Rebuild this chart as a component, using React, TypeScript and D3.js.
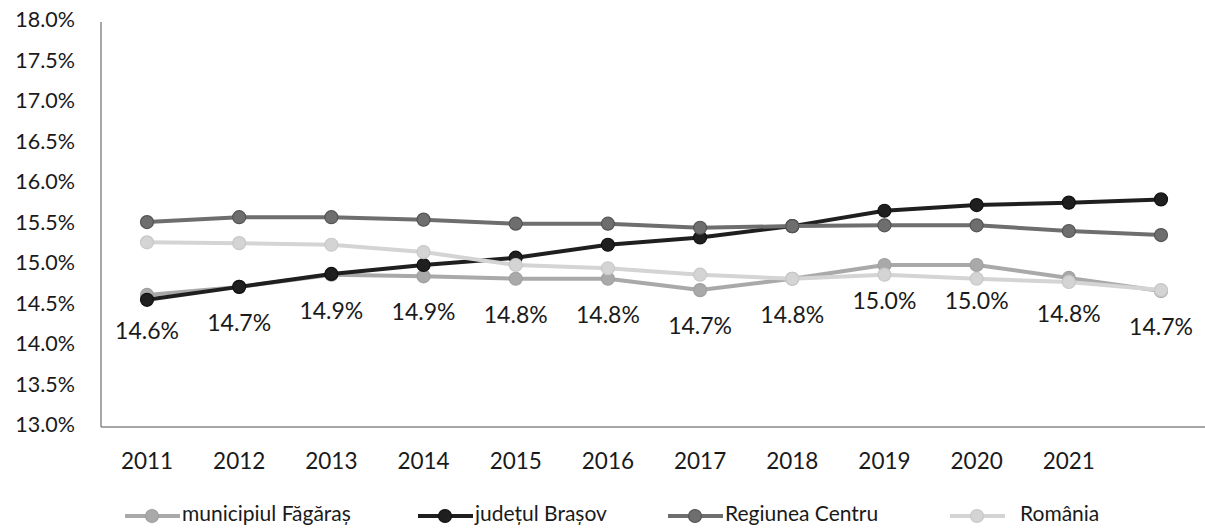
import React from "react";
import * as d3 from "d3";

const categories = ["2011", "2012", "2013", "2014", "2015", "2016", "2017", "2018", "2019", "2020", "2021", "2022"];
const xTickLabels = ["2011", "2012", "2013", "2014", "2015", "2016", "2017", "2018", "2019", "2020", "2021", ""];
const fagaras = [14.63, 14.73, 14.88, 14.86, 14.83, 14.83, 14.69, 14.83, 15.0, 15.0, 14.84, 14.68];
const brasov = [14.57, 14.73, 14.89, 15.0, 15.09, 15.25, 15.34, 15.48, 15.67, 15.74, 15.77, 15.81];
const centru = [15.53, 15.59, 15.59, 15.56, 15.51, 15.51, 15.46, 15.48, 15.49, 15.49, 15.42, 15.37];
const romania = [15.28, 15.27, 15.25, 15.16, 15.0, 14.96, 14.88, 14.83, 14.88, 14.83, 14.79, 14.69];
const yTicks = [13.0, 13.5, 14.0, 14.5, 15.0, 15.5, 16.0, 16.5, 17.0, 17.5, 18.0];
const seriesNames = ["municipiul Făgăraș", "județul Brașov", "Regiunea Centru", "România"];

const W = 1205;
const H = 530;
const FONT = "Lato, 'Open Sans', sans-serif";

const series = [
  { name: seriesNames[0], values: fagaras, color: "#a9a9a9", stroke: "#a0a0a0" },
  { name: seriesNames[1], values: brasov, color: "#1f1f1f", stroke: "#111" },
  { name: seriesNames[2], values: centru, color: "#6e6e6e", stroke: "#555" },
  { name: seriesNames[3], values: romania, color: "#d4d4d4", stroke: "#c8c8c8" },
];

const legendX = [125, 418, 668, 950];

export default function App() {
  const x = d3.scalePoint<string>().domain(categories).range([147, 1161]);
  const y = d3.scaleLinear().domain([13, 18]).range([427, 22]);
  const line = d3
    .line<number>()
    .x((_, i) => x(categories[i]) as number)
    .y((d) => y(d));

  return (
    <svg
      width={W}
      height={H}
      style={{ position: "absolute", left: 0, top: 0, background: "#fff" }}
      fontFamily={FONT}
    >
      <rect width={W} height={H} fill="#fff" />
      {/* axes */}
      <line x1={101} x2={101} y1={y(18)} y2={y(13)} stroke="#8a8a8a" strokeWidth={1.5} />
      <line x1={101} x2={1205} y1={y(13)} y2={y(13)} stroke="#8a8a8a" strokeWidth={1.5} />
      {yTicks.map((t) => (
        <text key={t} x={75} y={y(t)} textAnchor="end" dominantBaseline="middle" fontSize={21.5} fill="#1a1a1a">
          {t.toFixed(1) + "%"}
        </text>
      ))}
      {xTickLabels.map((c, i) => (
        <text key={i} x={x(categories[i]) as number} y={463} textAnchor="middle" dominantBaseline="middle" fontSize={22.5} fill="#1a1a1a">
          {c}
        </text>
      ))}
      {/* series */}
      {series.map((s) => (
        <g key={s.name}>
          <path d={line(s.values) || ""} fill="none" stroke={s.color} strokeWidth={4} strokeLinejoin="round" />
          {s.values.map((v, i) => (
            <circle key={i} cx={x(categories[i]) as number} cy={y(v)} r={6.5} fill={s.color} stroke={s.stroke} strokeWidth={1.2} />
          ))}
        </g>
      ))}
      {/* data labels for Făgăraș */}
      {fagaras.map((v, i) => (
        <text key={i} x={x(categories[i]) as number} y={y(v) + 38} textAnchor="middle" dominantBaseline="middle" fontSize={23} fill="#1a1a1a">
          {v.toFixed(1) + "%"}
        </text>
      ))}
      {/* legend */}
      {series.map((s, i) => (
        <g key={s.name} transform={`translate(${legendX[i]},516)`}>
          <line x1={0} x2={55} y1={0} y2={0} stroke={s.color} strokeWidth={4} />
          <circle cx={27} cy={0} r={6.5} fill={s.color} stroke={s.stroke} strokeWidth={1.2} />
          <text x={i === 3 ? 70 : 57} y={0} dominantBaseline="middle" fontSize={21} fill="#1a1a1a">
            {s.name}
          </text>
        </g>
      ))}
    </svg>
  );
}
